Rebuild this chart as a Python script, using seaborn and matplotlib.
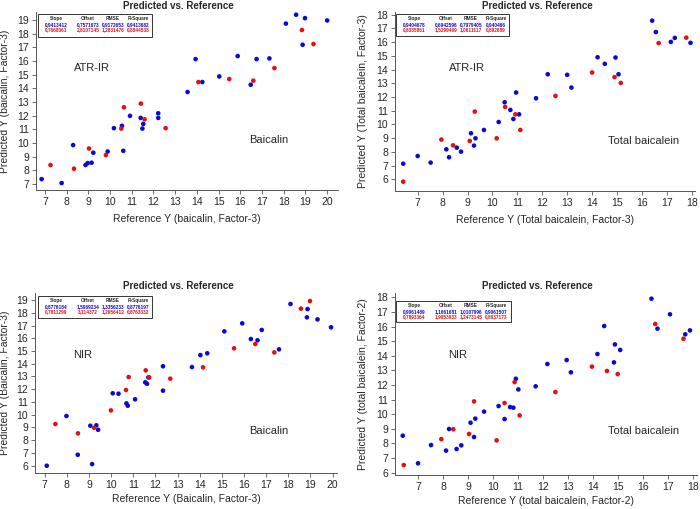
import matplotlib
matplotlib.use("Agg")
import matplotlib.pyplot as plt
from matplotlib.patches import Rectangle
import seaborn as sns
import pandas as pd

sns.set_style("white")
plt.rcParams['font.family'] = ['Liberation Sans', 'DejaVu Sans']

W, H = 700, 509

# ---------------- data ----------------
# Panel 1: ATR-IR, baicalin
p1_cal_ref = [6.85, 7.77, 8.3, 8.87, 8.97, 9.15, 9.23, 9.89, 10.61, 10.18, 10.55, 10.92, 11.41, 11.53, 11.49,
              12.22, 12.22, 13.57, 13.94, 14.25, 15.03, 15.88, 16.48, 16.75, 17.34, 18.1, 18.57, 18.98, 18.87, 20.0]
p1_cal_pred = [7.36, 7.07, 9.85, 8.39, 8.53, 8.56, 9.29, 9.38, 9.43, 11.09, 11.26, 11.99, 11.84, 11.40, 11.06,
               12.18, 11.84, 13.74, 16.15, 14.47, 14.88, 16.37, 14.27, 16.15, 16.2, 18.75, 19.4, 19.15, 17.2, 18.98]
p1_val_ref = [7.26, 8.34, 9.03, 9.81, 10.52, 10.64, 11.42, 11.59, 12.56, 14.07, 15.49, 16.6, 17.57, 18.84, 19.37]
p1_val_pred = [8.39, 8.12, 9.6, 9.12, 11.06, 12.62, 12.89, 11.74, 11.09, 14.47, 14.69, 14.57, 15.49, 18.28, 17.25]

# Panel 2: ATR-IR, total baicalein
p2_cal_ref = [6.42, 7.0, 7.52, 8.15, 8.26, 8.57, 8.74, 9.14, 9.32, 9.26, 9.66, 10.25, 10.49, 10.72, 10.84,
              11.07, 10.95, 11.75, 12.22, 13.0, 13.17, 14.22, 14.51, 14.94, 15.06, 16.41, 16.56, 17.16, 17.32, 17.95]
p2_cal_pred = [7.14, 7.70, 7.22, 8.19, 7.61, 8.31, 8.02, 9.36, 8.99, 8.46, 9.6, 10.18, 11.62, 11.06, 10.4,
               10.74, 12.33, 11.91, 13.66, 13.62, 12.69, 14.9, 14.42, 14.88, 13.66, 17.57, 16.74, 16.02, 16.31, 15.95]
p2_val_ref = [6.42, 7.95, 8.42, 9.09, 9.29, 10.17, 10.51, 10.92, 11.12, 12.53, 14.0, 14.9, 15.15, 16.67, 17.78]
p2_val_pred = [5.83, 8.9, 8.48, 8.8, 10.94, 8.99, 11.28, 10.74, 9.6, 12.08, 13.79, 13.45, 13.03, 15.93, 16.33]

# Panel 3: NIR, baicalin
p3_cal_ref = [7.09, 7.98, 8.49, 9.06, 9.33, 9.41, 9.14, 10.07, 10.33, 10.69, 10.75, 11.08, 11.54, 11.62, 11.68,
              12.34, 12.34, 13.65, 14.03, 14.34, 15.11, 15.92, 16.31, 16.61, 16.8, 17.58, 18.1, 18.87, 18.84,
              19.32, 19.93]
p3_cal_pred = [6.0, 9.9, 6.86, 9.14, 9.17, 8.82, 6.13, 11.68, 11.65, 10.89, 10.71, 11.21, 12.54, 12.43, 12.93,
               13.8, 11.89, 13.74, 14.68, 14.82, 16.54, 17.17, 15.94, 15.84, 16.65, 15.13, 18.69, 18.29, 17.64,
               17.48, 16.86]
p3_val_ref = [7.48, 8.5, 9.23, 9.99, 10.67, 10.79, 11.56, 11.72, 12.67, 14.15, 15.55, 16.51, 17.37, 18.57, 18.98]
p3_val_pred = [9.27, 8.54, 8.98, 10.34, 11.94, 12.96, 13.48, 12.93, 12.83, 13.72, 15.21, 15.55, 14.89, 18.32, 18.92]

# Panel 4: NIR, total baicalein
p4_cal_ref = [6.39, 7.0, 7.52, 8.12, 8.24, 8.54, 8.73, 9.1, 9.29, 9.24, 9.64, 10.22, 10.46, 10.68, 10.81,
              10.91, 11.01, 11.7, 12.17, 12.94, 13.11, 14.17, 14.44, 14.87, 14.83, 15.08, 16.33, 16.57, 17.07,
              17.68, 17.87]
p4_cal_pred = [8.53, 6.64, 7.89, 7.51, 8.99, 7.62, 7.87, 9.42, 9.7, 8.44, 10.18, 10.56, 9.67, 10.49, 10.45,
               12.43, 11.7, 11.91, 13.44, 13.71, 12.87, 14.12, 16.04, 14.78, 13.55, 14.4, 17.91, 15.86, 16.84,
               15.47, 15.74]
p4_val_ref = [6.43, 7.93, 8.41, 9.04, 9.24, 10.14, 10.46, 10.86, 11.06, 12.49, 13.95, 14.55, 14.98, 16.48, 17.61]
p4_val_pred = [6.52, 8.3, 8.97, 8.65, 10.88, 8.21, 10.77, 12.2, 9.92, 11.52, 13.26, 12.96, 12.75, 16.18, 15.17]

stat_headers = ["Slope", "Offset", "RMSE", "R-Square"]
p1_stats = [["0,9413412", "0,7571673", "0,9172653", "0,9413682"],
            ["0,7668061", "2,8107145", "1,2831476", "0,8844538"]]
p2_stats = [["0,9404678", "0,6942596", "0,7979405", "0,940466"],
            ["0,8335861", "1,5299469", "1,0611117", "0,892689"]]
p3_stats = [["0,8776184", "1,5969234", "1,3356233", "0,8776197"],
            ["0,7811299", "3,114372", "1,2956412", "0,8763332"]]
p4_stats = [["0,9061489", "1,1661681", "1,0107996", "0,9061507"],
            ["0,7893364", "1,9953933", "1,2473145", "0,8637173"]]

titles = ["Predicted vs. Reference"] * 4
xlabels = ["Reference Y (baicalin, Factor-3)", "Reference Y (Total baicalein, Factor-3)",
           "Reference Y (Baicalin, Factor-3)", "Reference Y (total baicalein, Factor-2)"]
ylabels = ["Predicted Y (baicalin, Factor-3)", "Predicted Y (Total baicalein, Factor-3)",
           "Predicted Y (Baicalin, Factor-3)", "Predicted Y (total baicalein, Factor-2)"]
method_labels = ["ATR-IR", "ATR-IR", "NIR", "NIR"]
compound_labels = ["Baicalin", "Total baicalein", "Baicalin", "Total baicalein"]

BLUE = "#0a0ad2"
RED = "#e41010"

fig = plt.figure(figsize=(7.0, 5.09), dpi=100)

# layout in pixels: (left, top, right, bottom)
boxes_px = [(36, 12, 338, 190), (395, 12, 695, 191), (35, 293, 337, 473), (395, 293, 697, 475)]
xlims = [(6.59, 20.5), (6.09, 18.13), (6.56, 20.2), (6.08, 18.15)]
ylims = [(6.56, 19.6), (5.15, 18.2), (5.43, 19.55), (5.84, 18.3)]
xlabel_off = [24, 24, 21, 21]
xticks = [range(7, 21), range(7, 19), range(7, 21), range(7, 19)]
yticks = [range(7, 20), range(6, 19), range(6, 20), range(6, 19)]
method_pos = [(9.15, 15.5), (8.97, 14.1), (8.7, 14.7), (8.6, 14.05)]
comp_pos = [(17.3, 10.2), (16.06, 8.8), (17.14, 8.7), (16.0, 8.85)]
title_x_px = [178, 537, 178, 537]
title_y_px = [6, 6, 286, 286]
ylabel_x_px = [5, 363, 5, 363]
stat_box_px = [(38, 14, 152, 37), (396, 14, 509, 36), (38, 296, 152, 318), (396, 301, 511, 322)]

data = [(p1_cal_ref, p1_cal_pred, p1_val_ref, p1_val_pred, p1_stats),
        (p2_cal_ref, p2_cal_pred, p2_val_ref, p2_val_pred, p2_stats),
        (p3_cal_ref, p3_cal_pred, p3_val_ref, p3_val_pred, p3_stats),
        (p4_cal_ref, p4_cal_pred, p4_val_ref, p4_val_pred, p4_stats)]

for i, (cr, cp, vr, vp, stats) in enumerate(data):
    l, t, r, b = boxes_px[i]
    ax = fig.add_axes([l / W, 1 - b / H, (r - l) / W, (b - t) / H])
    df = pd.DataFrame({
        "ref": list(cr) + list(vr),
        "pred": list(cp) + list(vp),
        "set": ["cal"] * len(cr) + ["val"] * len(vr),
    })
    sns.scatterplot(data=df, x="ref", y="pred", hue="set", palette={"cal": BLUE, "val": RED},
                    s=11, edgecolor="none", legend=False, ax=ax)
    ax.set_xlim(*xlims[i])
    ax.set_ylim(*ylims[i])
    ax.set_xticks(list(xticks[i]))
    ax.set_yticks(list(yticks[i]))
    ax.tick_params(axis="both", labelsize=7.5, length=3, width=0.6, color="#555555", pad=2,
                   direction="out", bottom=True, left=True)
    for sp in ["top", "right"]:
        ax.spines[sp].set_visible(False)
    for sp in ["left", "bottom"]:
        ax.spines[sp].set_color("#555555")
        ax.spines[sp].set_linewidth(0.7)
    ax.set_xlabel(xlabels[i], fontsize=7.5)
    ax.set_ylabel(ylabels[i], fontsize=7.5)
    hpx = b - t
    wpx = r - l
    ax.xaxis.set_label_coords(0.5, -xlabel_off[i] / hpx)
    ax.yaxis.set_label_coords((ylabel_x_px[i] - l) / wpx, 0.5)
    ax.yaxis.label.set_va("center")
    ax.text(*method_pos[i], method_labels[i], fontsize=8, ha="center", va="center")
    ax.text(*comp_pos[i], compound_labels[i], fontsize=8, ha="center", va="center")

    fig.text(title_x_px[i] / W, 1 - title_y_px[i] / H, titles[i], fontsize=7, fontweight="bold",
             ha="center", va="center")

    # stats box
    bl, bt, br, bb = stat_box_px[i]
    fig.patches.append(Rectangle((bl / W, 1 - bb / H), (br - bl) / W, (bb - bt) / H,
                                 transform=fig.transFigure, facecolor="white", edgecolor="#333333",
                                 linewidth=0.7, zorder=5))
    col_off = [18, 50, 75, 100]
    for j, hdr in enumerate(stat_headers):
        fig.text((bl + col_off[j]) / W, 1 - (bt + 4.5) / H, hdr, fontsize=3.4, fontweight="bold",
                 ha="center", va="center", zorder=6)
        fig.text((bl + col_off[j]) / W, 1 - (bt + 10.5) / H, stats[0][j], fontsize=3.4, fontweight="bold",
                 color=BLUE, ha="center", va="center", zorder=6)
        fig.text((bl + col_off[j]) / W, 1 - (bt + 15.5) / H, stats[1][j], fontsize=3.4, fontweight="bold",
                 color=RED, ha="center", va="center", zorder=6)

fig.savefig("out.png", dpi=100)
